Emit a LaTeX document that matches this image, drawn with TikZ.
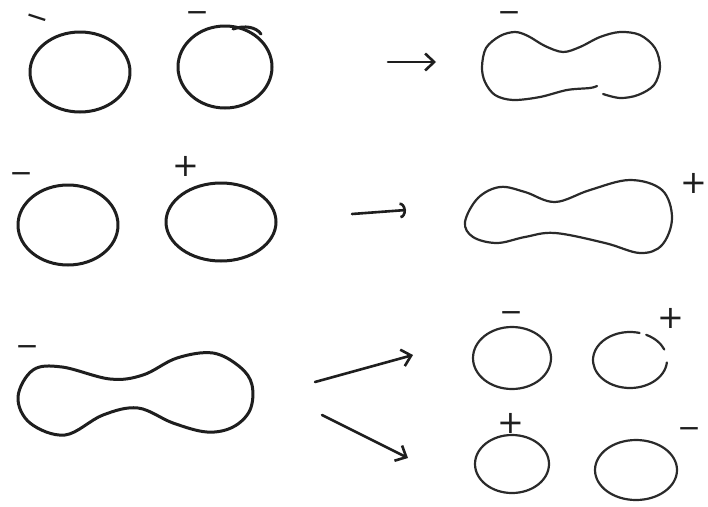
\documentclass[tikz,border=0pt]{standalone}
\usepackage{fontspec}
\newfontfamily\signfont{DejaVu Sans}
\usetikzlibrary{arrows.meta}
\definecolor{inkc}{HTML}{1E1E1E}
\definecolor{inkd}{HTML}{2A2A2A}
\begin{document}
\begin{tikzpicture}[x=1pt,y=-1pt,
  ink/.style={line width=3pt, draw=inkc, line cap=round, line join=round},
  pen/.style={line width=2.2pt, draw=inkd, line cap=round, line join=round},
  sign/.style={font=\signfont\fontsize{28}{28}\selectfont, inner sep=0pt, text=inkc},
  plus/.style={font=\signfont\fontsize{32}{32}\selectfont, inner sep=0pt, text=inkc},
  arr/.style={ink, line width=2.6pt, -{Straight Barb[length=9pt,width=17pt,line width=2.6pt]}},
  arrc/.style={ink, line width=2.6pt, -{Arc Barb[length=6pt,width=16pt,line width=2.6pt]}}]
\useasboundingbox[fill=white] (0,0) rectangle (708,506);

% ---------- row 1 ----------
\draw[ink] (80,72) ellipse[x radius=50, y radius=40];
\node[sign, rotate=-18] (s1a) at (36,21) {−};
\draw[ink] (225,67) ellipse[x radius=47, y radius=41];
\draw[ink] (233,29) .. controls (245,25) and (256,27) .. (261,34);
\node[sign] (s1b) at (197,17) {−};
\coordinate (a1s) at (388,62);
\coordinate (a1e) at (436,62);
\draw[arr] (a1s) -- (a1e);
\draw[pen] plot[smooth, tension=0.55] coordinates {(603,94) (620,98) (638,95) (654,85) (660,67) (655,48) (640,35) (620,32) (600,37) (580,47) (563,52) (545,46) (528,36) (515,32) (500,36) (486,48) (482,67) (485,82) (495,95) (513,100) (540,97) (567,90) (590,88) (597,86)};
\node[sign] (s1c) at (509,17) {−};

% ---------- row 2 ----------
\draw[ink] (68,225) ellipse[x radius=50, y radius=40];
\node[sign] (s2a) at (21,178) {−};
\draw[ink] (221,222) ellipse[x radius=55, y radius=39];
\node[plus] (s2b) at (186,166) {+};
\coordinate (a2s) at (352,214);
\coordinate (a2e) at (406,210);
\draw[arrc] (a2s) -- (a2e);
\draw[pen] plot[smooth cycle, tension=0.6] coordinates {(465,222) (478,198) (500,187) (525,192) (555,202) (590,190) (630,180) (662,190) (672,218) (662,245) (640,253) (605,243) (555,233) (525,237) (497,243) (473,237)};
\node[plus] (s2c) at (694,183) {+};

% ---------- row 3 ----------
\draw[ink] plot[smooth cycle, tension=0.6] coordinates {(18,397) (33,370) (62,367) (110,379) (143,375) (177,358) (213,353) (240,367) (252,385) (250,410) (233,427) (207,432) (173,423) (138,408) (103,415) (65,435) (30,423)};
\node[sign] (s3a) at (27,351) {−};
\coordinate (a3s) at (315,382);
\coordinate (a3e) at (413,355);
\draw[arr] (a3s) -- (a3e);
\coordinate (a4s) at (322,415);
\coordinate (a4e) at (408,458);
\draw[arr] (a4s) -- (a4e);

\draw[pen] (512,358) ellipse[x radius=39, y radius=31];
\node[sign] (s4a) at (511,317) {−};
\draw[pen] (630,360) ++(5:37 and 28) arc[start angle=5, end angle=285, x radius=37, y radius=28];
\draw[pen] (630,360) ++(296:37 and 28) arc[start angle=296, end angle=338, x radius=37, y radius=28];
\node[plus] (s4b) at (671,318) {+};
\draw[pen] (512,464) ellipse[x radius=37, y radius=29];
\node[plus] (s4c) at (511,423) {+};
\draw[pen] (636,470) ellipse[x radius=41, y radius=30];
\node[sign] (s4d) at (689,433) {−};
\end{tikzpicture}
\end{document}
